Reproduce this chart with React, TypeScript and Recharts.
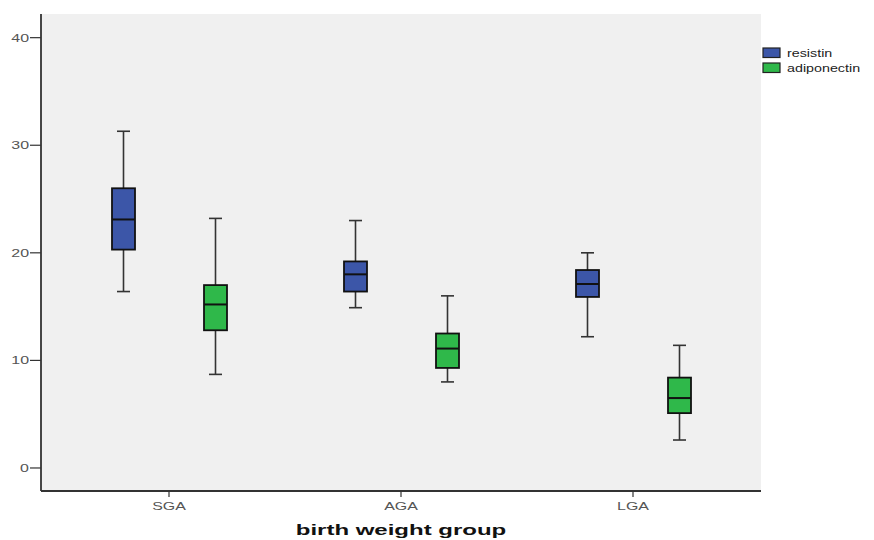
import React from 'react';
import { ComposedChart, Bar, XAxis, YAxis, CartesianGrid, Legend, Label } from 'recharts';

// box plot statistics
const groups = ['SGA', 'AGA', 'LGA'];
const seriesNames = ['resistin', 'adiponectin'];

const resistinMin = [16.4, 14.9, 12.2];
const resistinQ1 = [20.3, 16.4, 15.9];
const resistinMedian = [23.1, 18.0, 17.1];
const resistinQ3 = [26.0, 19.2, 18.4];
const resistinMax = [31.3, 23.0, 20.0];

const adiponectinMin = [8.7, 8.0, 2.6];
const adiponectinQ1 = [12.8, 9.3, 5.1];
const adiponectinMedian = [15.2, 11.1, 6.5];
const adiponectinQ3 = [17.0, 12.5, 8.4];
const adiponectinMax = [23.2, 16.0, 11.4];

const yTicks = [0, 10, 20, 30, 40];

const data = groups.map((group, i) => ({
  group,
  resistin: [resistinQ1[i], resistinQ3[i]],
  resistinMin: resistinMin[i],
  resistinMedian: resistinMedian[i],
  resistinMax: resistinMax[i],
  adiponectin: [adiponectinQ1[i], adiponectinQ3[i]],
  adiponectinMin: adiponectinMin[i],
  adiponectinMedian: adiponectinMedian[i],
  adiponectinMax: adiponectinMax[i],
}));

const FONT = 'Arial, "Liberation Sans", sans-serif';
const STRETCH = 1.45;
const AXIS = '#333';

// draws box + whiskers, pixel positions come from the bar rect the scale gave us
const makeBoxShape = (key: string, fill: string) => (props: any) => {
  const { x, y, width, height, payload } = props;
  const [q1, q3] = payload[key];
  const top = Math.min(y, y + height);
  const h = Math.abs(height);
  const k = h / (q3 - q1);
  const cx = x + width / 2;
  const yMax = top - (payload[key + 'Max'] - q3) * k;
  const yMin = top + h + (q1 - payload[key + 'Min']) * k;
  const yMed = top + (q3 - payload[key + 'Median']) * k;
  const cap = 6.5;
  return (
    <g>
      <line x1={cx} x2={cx} y1={yMax} y2={top} stroke={AXIS} strokeWidth={1.6} />
      <line x1={cx} x2={cx} y1={top + h} y2={yMin} stroke={AXIS} strokeWidth={1.6} />
      <line x1={cx - cap} x2={cx + cap} y1={yMax} y2={yMax} stroke={AXIS} strokeWidth={1.6} />
      <line x1={cx - cap} x2={cx + cap} y1={yMin} y2={yMin} stroke={AXIS} strokeWidth={1.6} />
      <rect x={x} y={top} width={width} height={h} fill={fill} stroke="#111" strokeWidth={1.8} />
      <line x1={x} x2={x + width} y1={yMed} y2={yMed} stroke="#111" strokeWidth={2} />
    </g>
  );
};

const YTick = (props: any) => {
  const { x, y, payload } = props;
  return (
    <g transform={`translate(${x},${y}) scale(${STRETCH},1)`}>
      <text x={0} y={0} dy="0.36em" textAnchor="end" fontSize={11} fontFamily={FONT} fill="#555">
        {payload.value}
      </text>
    </g>
  );
};

const XTick = (props: any) => {
  const { x, y, payload } = props;
  return (
    <g transform={`translate(${x},${y}) scale(${STRETCH},1)`}>
      <text x={0} y={0} dy="0.8em" textAnchor="middle" fontSize={11} fontFamily={FONT} fill="#555">
        {payload.value}
      </text>
    </g>
  );
};

const AxisTitle = (props: any) => {
  const { viewBox } = props;
  const cx = viewBox.x + viewBox.width / 2;
  return (
    <g transform={`translate(${cx},535) scale(1.6,1)`}>
      <text x={0} y={0} textAnchor="middle" fontSize={15} fontWeight="bold" fontFamily={FONT} fill="#111">
        birth weight group
      </text>
    </g>
  );
};

const LegendBox = (props: any) => {
  const items = [...(props.payload || [])].sort(
    (a: any, b: any) => seriesNames.indexOf(a.value) - seriesNames.indexOf(b.value)
  );
  return (
    <svg width={112} height={40}>
      {items.map((entry: any, i: number) => (
        <g key={entry.value} transform={`translate(1,${4 + i * 15})`}>
          <rect x={0} y={0} width={17} height={9.5} fill={entry.color} stroke="#222" strokeWidth={1.2} />
          <g transform={`translate(24,5) scale(1.3,1)`}>
            <text x={0} y={0} dy="0.36em" fontSize={11} fontFamily={FONT} fill="#222">
              {entry.value}
            </text>
          </g>
        </g>
      ))}
    </svg>
  );
};

export default function App() {
  return (
    <div style={{ position: 'absolute', left: 0, top: 0, background: '#fff' }}>
      <ComposedChart
        width={874}
        height={540}
        data={data}
        margin={{ top: 14, right: 113, left: 0, bottom: 0 }}
        barSize={23}
        barGap={69}
      >
        <CartesianGrid fill="#f0f0f0" horizontal={false} vertical={false} />
        <XAxis
          dataKey="group"
          padding={{ left: 12, right: 12 }}
          height={49}
          tickSize={6}
          tickMargin={4}
          tick={<XTick />}
          axisLine={{ stroke: AXIS, strokeWidth: 1.8 }}
          tickLine={{ stroke: AXIS, strokeWidth: 1.2 }}
        >
          <Label content={<AxisTitle />} />
        </XAxis>
        <XAxis
          xAxisId="top"
          dataKey="group"
          orientation="top"
          height={0}
          tick={false}
          tickLine={false}
          axisLine={{ stroke: AXIS, strokeWidth: 1.8 }}
        />
        <YAxis
          type="number"
          domain={[-2.14, 42.2]}
          ticks={yTicks}
          allowDataOverflow
          width={41}
          tickSize={11}
          tickMargin={1}
          tick={<YTick />}
          axisLine={{ stroke: AXIS, strokeWidth: 1.8 }}
          tickLine={{ stroke: AXIS, strokeWidth: 1.2 }}
        />
        <YAxis
          yAxisId="right"
          orientation="right"
          type="number"
          domain={[-2.14, 42.2]}
          width={0}
          tick={false}
          tickLine={false}
          axisLine={{ stroke: AXIS, strokeWidth: 1.8 }}
        />
        <Legend
          layout="horizontal"
          verticalAlign="middle"
          align="center"
          content={<LegendBox />}
          wrapperStyle={{ left: 762, top: 44, width: 112, height: 40 }}
        />
        <Bar
          dataKey="resistin"
          name="resistin"
          fill="#3c56a8"
          shape={makeBoxShape('resistin', '#3c56a8')}
          isAnimationActive={false}
        />
        <Bar
          dataKey="adiponectin"
          name="adiponectin"
          fill="#2fb84a"
          shape={makeBoxShape('adiponectin', '#2fb84a')}
          isAnimationActive={false}
        />
      </ComposedChart>
    </div>
  );
}
